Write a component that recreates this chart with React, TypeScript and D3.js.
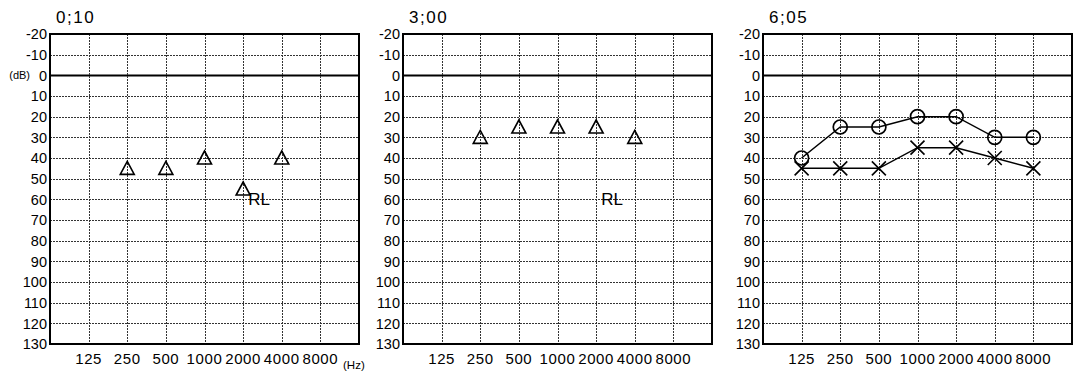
import React, { useEffect, useRef } from "react";
import * as d3 from "d3";

// frequencies (Hz) on the x axis, hearing level (dB) on the y axis
const freqs = [125, 250, 500, 1000, 2000, 4000, 8000];
const dbTicks = [-20, -10, 0, 10, 20, 30, 40, 50, 60, 70, 80, 90, 100, 110, 120, 130];

const titles = ["0;10", "3;00", "6;05"];

// sound field thresholds (triangles), null = not tested
const field010 = [null, 45, 45, 40, 55, 40, null];
const field300 = [null, 30, 25, 25, 25, 30, null];

// 6;05 right ear (O) and left ear (X)
const right605 = [40, 25, 25, 20, 20, 30, 30];
const left605 = [45, 45, 45, 35, 35, 40, 45];

// "RL" notes: [frequency index, dB]
const notes010 = [[4, 60]];
const notes300 = [[4, 60]];

const panelLefts = [50, 403, 763];

const App = () => {
  const ref = useRef<SVGSVGElement>(null);

  useEffect(() => {
    const svg = d3.select(ref.current);
    svg.selectAll("*").remove();

    const top = 34;
    const bottom = 344;
    const w = 309;
    const font = "'Liberation Sans', Arial, sans-serif";

    const y = d3.scaleLinear().domain([-20, 130]).range([top, bottom]);
    const px = (v: number) => Math.round(v) + 0.5; // crisp grid

    const panels = [
      { tri: field010, notes: notes010 },
      { tri: field300, notes: notes300 },
      { right: right605, left: left605 },
    ];

    panels.forEach((p: any, pi) => {
      const left = panelLefts[pi];
      const x = d3.scaleLinear().domain([0, 8]).range([left, left + w]);
      const g = svg.append("g");

      // title
      g.append("text")
        .attr("x", left + 6)
        .attr("y", 23)
        .attr("font-size", 17)
        .attr("letter-spacing", 1.5)
        .attr("font-family", font)
        .text(titles[pi]);

      // horizontal grid
      dbTicks.slice(1, -1).forEach((d) => {
        g.append("line")
          .attr("x1", left).attr("x2", left + w)
          .attr("y1", px(y(d))).attr("y2", px(y(d)))
          .attr("stroke", d === 0 ? "#000" : "#333")
          .attr("stroke-width", d === 0 ? 2 : 1)
          .attr("stroke-dasharray", d === 0 ? null : "2,1");
      });

      // vertical grid
      freqs.forEach((f, i) => {
        g.append("line")
          .attr("x1", px(x(i + 1))).attr("x2", px(x(i + 1)))
          .attr("y1", top).attr("y2", bottom)
          .attr("stroke", "#333")
          .attr("stroke-width", 1)
          .attr("stroke-dasharray", "2,1");
      });

      // frame
      g.append("rect")
        .attr("x", left).attr("y", top)
        .attr("width", w).attr("height", bottom - top)
        .attr("fill", "none")
        .attr("stroke", "#000")
        .attr("stroke-width", 2);

      // y labels
      dbTicks.forEach((d) => {
        g.append("text")
          .attr("x", left - 3)
          .attr("y", y(d))
          .attr("dy", "0.36em")
          .attr("text-anchor", "end")
          .attr("font-size", 14.5)
          .attr("font-family", font)
          .text(d);
      });

      // x labels
      freqs.forEach((f, i) => {
        g.append("text")
          .attr("x", x(i + 1))
          .attr("y", 364)
          .attr("text-anchor", "middle")
          .attr("font-size", 15)
          .attr("letter-spacing", 0.6)
          .attr("font-family", font)
          .text(f);
      });

      if (pi === 0) {
        g.append("text")
          .attr("x", left - 20)
          .attr("y", y(0))
          .attr("dy", "0.36em")
          .attr("text-anchor", "end")
          .attr("font-size", 11)
          .attr("font-family", font)
          .text("(dB)");
        g.append("text")
          .attr("x", left + w - 16)
          .attr("y", 369)
          .attr("font-size", 11.5)
          .attr("font-family", font)
          .text("(Hz)");
      }

      if (p.tri) {
        p.tri.forEach((v: number | null, i: number) => {
          if (v === null) return;
          const cx = x(i + 1);
          const cy = y(v);
          g.append("path")
            .attr("d", `M${cx},${cy - 7}L${cx + 7},${cy + 6}L${cx - 7},${cy + 6}Z`)
            .attr("fill", "none")
            .attr("stroke", "#000")
            .attr("stroke-width", 1.6);
        });
        p.notes.forEach(([fi, db]: number[]) => {
          g.append("text")
            .attr("x", x(fi + 1) + 5)
            .attr("y", y(db))
            .attr("dy", "0.36em")
            .attr("font-size", 17)
            .attr("font-family", font)
            .text("RL");
        });
      }

      if (p.right) {
        const line = d3.line<number>().x((d, i) => x(i + 1)).y((d) => y(d));
        [p.right, p.left].forEach((s: number[]) => {
          g.append("path")
            .attr("d", line(s))
            .attr("fill", "none")
            .attr("stroke", "#000")
            .attr("stroke-width", 1.5);
        });
        p.right.forEach((v: number, i: number) => {
          g.append("circle")
            .attr("cx", x(i + 1)).attr("cy", y(v))
            .attr("r", 7)
            .attr("fill", "none")
            .attr("stroke", "#000")
            .attr("stroke-width", 1.7);
        });
        p.left.forEach((v: number, i: number) => {
          const cx = x(i + 1);
          const cy = y(v);
          g.append("path")
            .attr("d", `M${cx - 7},${cy - 7}L${cx + 7},${cy + 7}M${cx + 7},${cy - 7}L${cx - 7},${cy + 7}`)
            .attr("stroke", "#000")
            .attr("stroke-width", 1.6);
        });
      }
    });
  }, []);

  return (
    <svg
      ref={ref}
      width={1078}
      height={376}
      style={{ position: "absolute", left: 0, top: 0, background: "#fff" }}
    ></svg>
  );
};

export default App;
